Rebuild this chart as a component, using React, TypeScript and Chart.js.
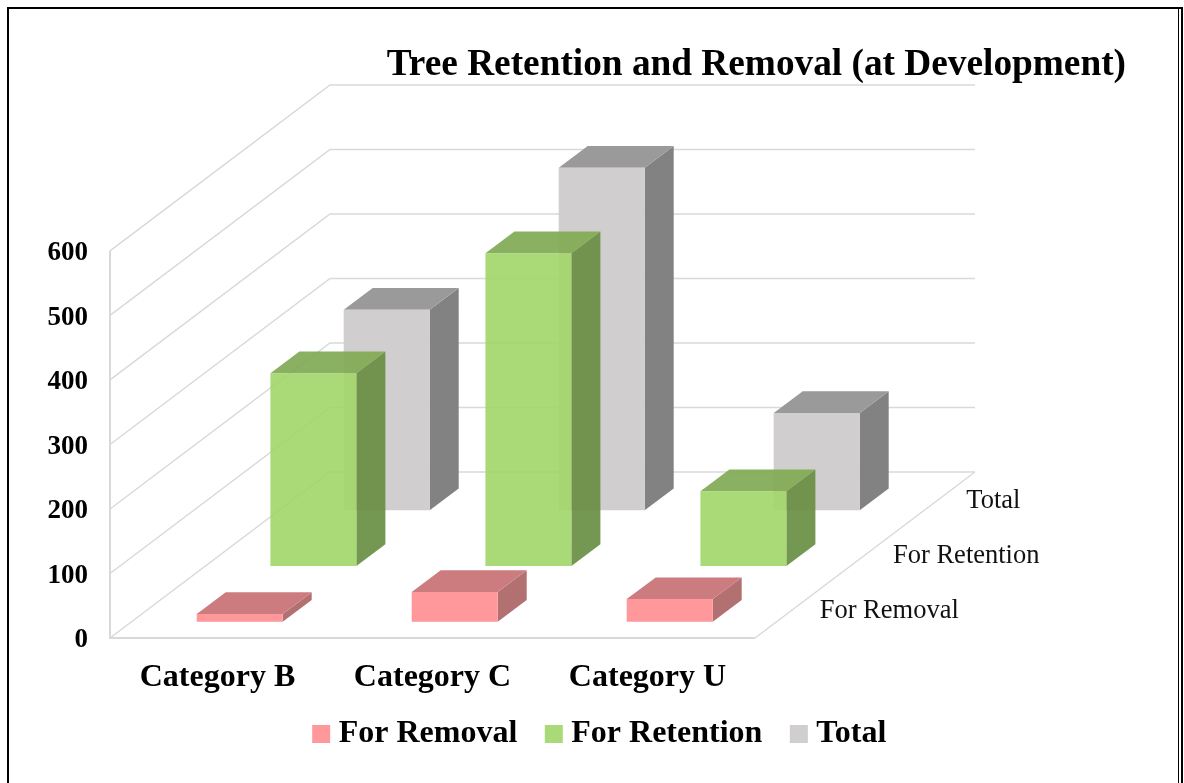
import React, { useEffect, useRef } from "react";
import { Chart, registerables } from "chart.js";

Chart.register(...registerables);

const categories = ["Category B", "Category C", "Category U"];
const seriesNames = ["For Removal", "For Retention", "Total"];
const forRemoval = [12, 46, 35];
const forRetention = [299, 485, 116];
const total = [311, 531, 151];
const yTicks = [0, 100, 200, 300, 400, 500, 600];
const titleText = "Tree Retention and Removal (at Development)";

const SERIF = "'Liberation Serif', 'Times New Roman', serif";
const floorDepth = { dx: 220, dy: -166 };
const barDepth = { dx: 29, dy: -21.7 };
const barShift = [
  { dx: 22.2, dy: -16.3 },
  { dx: 95.9, dy: -72 },
  { dx: 169.2, dy: -127.7 },
];
const faces = [
  { front: "rgb(255,152,155)", top: "rgb(204,124,126)", side: "rgb(178,112,112)" },
  { front: "rgba(161,214,104,0.9)", top: "rgba(128,170,84,0.92)", side: "rgba(104,142,66,0.92)" },
  { front: "rgb(208,206,206)", top: "rgb(155,154,154)", side: "rgb(131,130,130)" },
];
const GRID = "#d9d9d9";

const threeD = {
  id: "threeD",
  afterLayout(chart: any) {
    if (chart.titleBlock) chart.titleBlock.right = 1126;
    // let the category labels run under the legend's empty top padding without being clipped
    chart.scales.x.bottom = chart.scales.x.top + 62;
  },
  beforeDatasetsDraw(chart: any) {
    const { ctx, scales } = chart;
    const y = scales.y;
    const left = scales.x.left;
    const right = scales.x.right;
    const { dx, dy } = floorDepth;
    ctx.save();
    ctx.strokeStyle = GRID;
    ctx.lineWidth = 1.5;
    yTicks.forEach((v) => {
      const py = y.getPixelForValue(v);
      ctx.beginPath();
      ctx.moveTo(left, py);
      ctx.lineTo(left + dx, py + dy);
      ctx.lineTo(right + dx, py + dy);
      ctx.stroke();
    });
    const base = y.getPixelForValue(0);
    ctx.lineWidth = 2;
    ctx.beginPath();
    ctx.moveTo(left, y.getPixelForValue(600));
    ctx.lineTo(left, base);
    ctx.lineTo(right, base);
    ctx.stroke();
    ctx.lineWidth = 1.5;
    ctx.beginPath();
    ctx.moveTo(right, base);
    ctx.lineTo(right + dx, base + dy);
    ctx.stroke();
    ctx.restore();
  },
  beforeDatasetDraw(chart: any, args: any) {
    const { ctx } = chart;
    const i = args.index;
    const shift = barShift[i];
    ctx.save();
    ctx.translate(shift.dx, shift.dy);
    const { dx, dy } = barDepth;
    args.meta.data.forEach((bar: any) => {
      const l = bar.x - bar.width / 2;
      const r = bar.x + bar.width / 2;
      ctx.fillStyle = faces[i].side;
      ctx.beginPath();
      ctx.moveTo(r, bar.y);
      ctx.lineTo(r + dx, bar.y + dy);
      ctx.lineTo(r + dx, bar.base + dy);
      ctx.lineTo(r, bar.base);
      ctx.closePath();
      ctx.fill();
      ctx.fillStyle = faces[i].top;
      ctx.beginPath();
      ctx.moveTo(l, bar.y);
      ctx.lineTo(l + dx, bar.y + dy);
      ctx.lineTo(r + dx, bar.y + dy);
      ctx.lineTo(r, bar.y);
      ctx.closePath();
      ctx.fill();
    });
  },
  afterDatasetDraw(chart: any) {
    chart.ctx.restore();
  },
  afterDatasetsDraw(chart: any) {
    const { ctx, scales } = chart;
    const base = scales.y.getPixelForValue(0);
    const right = scales.x.right;
    ctx.save();
    ctx.font = `26.5px ${SERIF}`;
    ctx.fillStyle = "#111";
    ctx.textAlign = "left";
    ctx.textBaseline = "middle";
    seriesNames.forEach((name, i) => {
      const t = (i + 0.5) / seriesNames.length;
      ctx.fillText(name, right + floorDepth.dx * t + 28, base + floorDepth.dy * t + 1);
    });
    ctx.restore();
  },
};

export default function App() {
  const ref = useRef<HTMLCanvasElement>(null);
  useEffect(() => {
    const mk = (label: string, data: number[], i: number) => ({
      label,
      data,
      backgroundColor: faces[i].front,
      borderWidth: 0,
      clip: false as any,
      grouped: false,
      barPercentage: 0.4,
      categoryPercentage: 1,
    });
    const chart = new Chart(ref.current as HTMLCanvasElement, {
      type: "bar",
      data: {
        labels: categories,
        datasets: [
          mk(seriesNames[0], forRemoval, 0),
          mk(seriesNames[1], forRetention, 1),
          mk(seriesNames[2], total, 2),
        ],
      },
      plugins: [threeD as any],
      options: {
        responsive: false,
        animation: false,
        layout: { padding: { left: 22, right: 0, top: 0, bottom: 23 } },
        plugins: {
          title: {
            display: true,
            text: titleText,
            align: "end",
            color: "#000",
            font: { family: SERIF, size: 37.3, weight: "bold" },
            padding: { top: 43, bottom: 163.2 },
          },
          legend: {
            position: "bottom",
            labels: {
              usePointStyle: true,
              pointStyle: "rect",
              boxWidth: 3,
              boxHeight: 18,
              padding: 35,
              color: "#000",
              font: { family: SERIF, size: 32, weight: "bold" },
            },
          },
          tooltip: { enabled: false },
        },
        scales: {
          x: {
            grid: { display: false },
            border: { display: false },
            ticks: {
              color: "#000",
              padding: 13,
              maxRotation: 0,
              font: { family: SERIF, size: 32, weight: "bold" },
            },
            afterFit(s: any) {
              s.height = 45;
            },
          },
          y: {
            min: 0,
            max: 600,
            grid: { display: false, drawTicks: false },
            border: { display: false },
            ticks: {
              stepSize: 100,
              padding: 22,
              labelOffset: 2.5,
              color: "#000",
              font: { family: SERIF, size: 27, weight: "bold" },
            },
            afterFit(s: any) {
              s.width = 88;
            },
          },
          depthGap: {
            type: "linear",
            position: "right",
            grid: { display: false },
            border: { display: false },
            ticks: { display: false },
            afterFit(s: any) {
              s.width = 429;
            },
          },
        },
      } as any,
    });
    return () => chart.destroy();
  }, []);
  const line = (s: React.CSSProperties): React.CSSProperties => ({ position: "fixed", background: "#000", ...s });
  return (
    <div style={{ position: "fixed", left: 0, top: 0, width: 1184, height: 783, overflow: "hidden", background: "#fff" }}>
      <canvas ref={ref} width={1184} height={783} style={{ position: "absolute", left: 0, top: 0, display: "block" }} />
      <div style={line({ left: 7, top: 7, width: 2, height: 776 })} />
      <div style={line({ left: 7, top: 7, width: 1174, height: 2 })} />
      <div style={line({ left: 1178, top: 7, width: 1, height: 776 })} />
      <div style={line({ left: 1181, top: 7, width: 2, height: 776 })} />
    </div>
  );
}
